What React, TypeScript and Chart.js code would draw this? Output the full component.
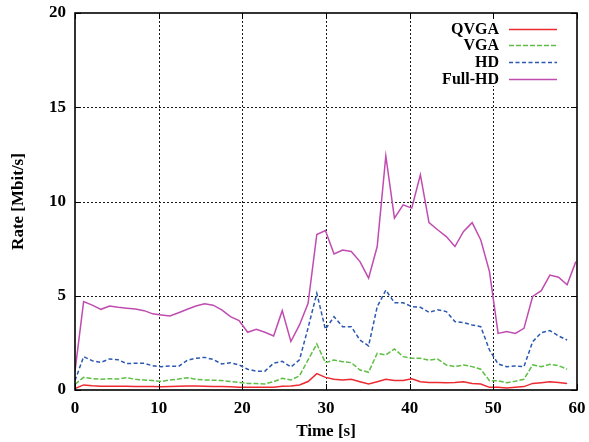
import React, { useEffect, useRef } from 'react';
import { Chart, registerables } from 'chart.js';

Chart.register(...registerables);

// Sample times (s)
const times = [
  0, 1.03, 2.06, 3.1, 4.13, 5.16, 6.19, 7.22, 8.26, 9.29,
  10.32, 11.35, 12.38, 13.42, 14.45, 15.48, 16.51, 17.54, 18.58, 19.61,
  20.64, 21.67, 22.7, 23.74, 24.77, 25.8, 26.83, 27.86, 28.9, 29.93,
  30.96, 31.99, 33.02, 34.06, 35.09, 36.12, 37.15, 38.18, 39.22, 40.25,
  41.28, 42.31, 43.34, 44.38, 45.41, 46.44, 47.47, 48.5, 49.54, 50.57,
  51.6, 52.63, 53.66, 54.7, 55.73, 56.76, 57.79, 58.82, 59.86,
];

const qvga = [
  0.08, 0.27, 0.22, 0.2, 0.2, 0.2, 0.2, 0.19, 0.18, 0.18,
  0.17, 0.18, 0.2, 0.21, 0.21, 0.2, 0.19, 0.18, 0.17, 0.15,
  0.14, 0.14, 0.14, 0.15, 0.2, 0.21, 0.27, 0.45, 0.87, 0.67,
  0.57, 0.53, 0.57, 0.44, 0.32, 0.44, 0.57, 0.5, 0.5, 0.6,
  0.44, 0.4, 0.4, 0.39, 0.4, 0.44, 0.35, 0.32, 0.14, 0.14,
  0.11, 0.14, 0.18, 0.35, 0.39, 0.44, 0.4, 0.35,
];

const vga = [
  0.3, 0.67, 0.6, 0.57, 0.6, 0.58, 0.65, 0.57, 0.53, 0.5,
  0.45, 0.53, 0.58, 0.65, 0.57, 0.53, 0.52, 0.5, 0.45, 0.4,
  0.35, 0.34, 0.32, 0.44, 0.62, 0.53, 0.75, 1.6, 2.44, 1.45,
  1.59, 1.5, 1.45, 1.06, 0.94, 1.95, 1.86, 2.18, 1.77, 1.68,
  1.68, 1.59, 1.64, 1.33, 1.24, 1.33, 1.24, 1.1, 0.49, 0.49,
  0.39, 0.47, 0.57, 1.33, 1.24, 1.36, 1.29, 1.1,
];

const hd = [
  0.5, 1.77, 1.55, 1.47, 1.65, 1.6, 1.4, 1.42, 1.42, 1.28,
  1.24, 1.27, 1.25, 1.58, 1.68, 1.73, 1.62, 1.38, 1.45, 1.33,
  1.1, 1.0, 1.0, 1.42, 1.52, 1.22, 1.6, 3.3, 5.13, 3.22,
  3.89, 3.36, 3.36, 2.65, 2.34, 4.42, 5.3, 4.63, 4.63, 4.42,
  4.39, 4.12, 4.25, 4.16, 3.63, 3.57, 3.45, 3.36, 2.12, 1.38,
  1.24, 1.27, 1.24, 2.56, 3.04, 3.15, 2.87, 2.65,
];

const fullHd = [
  1.0, 4.69, 4.5, 4.28, 4.46, 4.39, 4.34, 4.3, 4.21, 4.04,
  3.98, 3.93, 4.1, 4.28, 4.46, 4.57, 4.5, 4.25, 3.89, 3.68,
  3.06, 3.22, 3.06, 2.87, 4.21, 2.57, 3.45, 4.6, 8.25, 8.46,
  7.22, 7.43, 7.35, 6.81, 5.93, 7.61, 12.42, 9.12, 9.82, 9.65,
  11.42, 8.88, 8.5, 8.14, 7.61, 8.41, 8.88, 7.96, 6.28, 3.0,
  3.1, 3.0, 3.27, 4.96, 5.27, 6.1, 5.98, 5.58, 6.81,
];

const seriesNames = ['QVGA', 'VGA', 'HD', 'Full-HD'];
const xTicks = [0, 10, 20, 30, 40, 50, 60];
const yTicks = [0, 5, 10, 15, 20];

const FONT = '"Liberation Serif", "Times New Roman", Times, serif';

const styles = [
  { color: '#ec2a30', dash: [] as number[] },
  { color: '#5fbf45', dash: [5, 2] },
  { color: '#2c58b0', dash: [4, 2.5] },
  { color: '#c04cb0', dash: [] as number[] },
];

function pts(vals: number[]) {
  return vals.map((v, i) => ({ x: times[i], y: v }));
}

const framePlugin = {
  id: 'gnuFrame',
  beforeDatasetsDraw(chart: any) {
    const { ctx, chartArea: a, scales } = chart;
    ctx.save();
    ctx.strokeStyle = '#1a1a1a';
    ctx.lineWidth = 1;
    ctx.setLineDash([2, 2]);
    xTicks.slice(1, -1).forEach((v) => {
      const x = Math.round(scales.x.getPixelForValue(v)) + 0.5;
      ctx.beginPath();
      ctx.moveTo(x, a.top);
      ctx.lineTo(x, a.bottom);
      ctx.stroke();
    });
    yTicks.slice(1, -1).forEach((v) => {
      const y = Math.round(scales.y.getPixelForValue(v)) + 0.5;
      ctx.beginPath();
      ctx.moveTo(a.left, y);
      ctx.lineTo(a.right, y);
      ctx.stroke();
    });
    ctx.setLineDash([]);
    // opaque key box
    ctx.fillStyle = '#fff';
    ctx.fillRect(440, 20, 125, 66);
    ctx.restore();
  },
  afterDatasetsDraw(chart: any) {
    const { ctx, chartArea: a, scales } = chart;
    ctx.save();
    ctx.strokeStyle = '#000';
    ctx.lineWidth = 1;
    const L = 6;
    xTicks.forEach((v) => {
      const x = Math.round(scales.x.getPixelForValue(v)) + 0.5;
      ctx.beginPath();
      ctx.moveTo(x, a.bottom);
      ctx.lineTo(x, a.bottom - L);
      ctx.moveTo(x, a.top);
      ctx.lineTo(x, a.top + L);
      ctx.stroke();
    });
    yTicks.forEach((v) => {
      const y = Math.round(scales.y.getPixelForValue(v)) + 0.5;
      ctx.beginPath();
      ctx.moveTo(a.left, y);
      ctx.lineTo(a.left + L, y);
      ctx.moveTo(a.right, y);
      ctx.lineTo(a.right - L, y);
      ctx.stroke();
    });
    ctx.lineWidth = 1.6;
    ctx.strokeRect(a.left, a.top, a.right - a.left, a.bottom - a.top);

    // key
    ctx.font = 'bold 16px ' + FONT;
    ctx.textAlign = 'right';
    ctx.textBaseline = 'middle';
    seriesNames.forEach((name, i) => {
      const y = 28.5 + i * 16.7;
      ctx.fillStyle = '#000';
      ctx.fillText(name, 499, y + 1);
      ctx.strokeStyle = styles[i].color;
      ctx.lineWidth = 1.5;
      ctx.setLineDash(styles[i].dash);
      ctx.beginPath();
      ctx.moveTo(509, Math.round(y) + 0.5);
      ctx.lineTo(557, Math.round(y) + 0.5);
      ctx.stroke();
      ctx.setLineDash([]);
    });
    ctx.restore();
  },
};

export default function App() {
  const ref = useRef<HTMLCanvasElement | null>(null);

  useEffect(() => {
    document.body.style.margin = '0';
    const canvas = ref.current;
    if (!canvas) return;
    const all = [qvga, vga, hd, fullHd];
    const chart = new Chart(canvas, {
      type: 'line',
      data: {
        datasets: all.map((vals, i) => ({
          label: seriesNames[i],
          data: pts(vals),
          borderColor: styles[i].color,
          backgroundColor: styles[i].color,
          borderDash: styles[i].dash,
          borderWidth: 1.5,
          pointRadius: 0,
          tension: 0,
          fill: false,
        })),
      },
      options: {
        animation: false,
        responsive: false,
        maintainAspectRatio: false,
        layout: { padding: { left: 0, right: 12, top: 13, bottom: 0 } },
        plugins: {
          legend: { display: false },
          tooltip: { enabled: false },
        },
        scales: {
          x: {
            type: 'linear',
            min: 0,
            max: 60,
            afterFit: (s: any) => {
              s.height = 52;
              s.paddingLeft = 0;
              s.paddingRight = 0;
            },
            grid: { display: false, drawTicks: false },
            border: { display: false },
            ticks: {
              stepSize: 10,
              maxRotation: 0,
              autoSkip: false,
              padding: 8,
              color: '#000',
              font: { family: FONT, size: 17, weight: 'bold' },
            },
            title: {
              display: true,
              text: 'Time [s]',
              color: '#000',
              padding: { top: 0, bottom: 0 },
              font: { family: FONT, size: 17, weight: 'bold' },
            },
          },
          y: {
            type: 'linear',
            min: 0,
            max: 20,
            afterFit: (s: any) => {
              s.width = 75;
              s.paddingTop = 0;
              s.paddingBottom = 0;
            },
            grid: { display: false, drawTicks: false },
            border: { display: false },
            ticks: {
              stepSize: 5,
              padding: 9,
              color: '#000',
              font: { family: FONT, size: 17, weight: 'bold' },
            },
            title: {
              display: true,
              text: 'Rate [Mbit/s]',
              color: '#000',
              padding: { top: 8, bottom: 0 },
              font: { family: FONT, size: 17, weight: 'bold' },
            },
          },
        },
      },
      plugins: [framePlugin],
    });
    return () => chart.destroy();
  }, []);

  return (
    <div style={{ width: 589, height: 442, background: '#fff' }}>
      <canvas ref={ref} width={589} height={442} style={{ display: 'block' }} />
    </div>
  );
}
